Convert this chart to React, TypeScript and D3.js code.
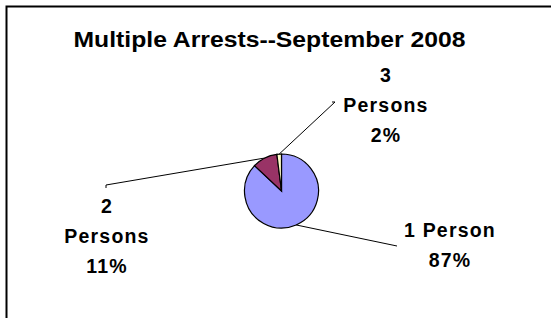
import React from "react";
import * as d3 from "d3";

const categories = ["1 Person", "2 Persons", "3 Persons"];
const values = [87, 11, 2];
const colors = ["#9999FF", "#993366", "#FFFFCC"];
const title = "Multiple Arrests--September 2008";

// label layout (text lines, anchor positions)
const labelLines = [["1 Person", "87%"], ["2", "Persons", "11%"], ["3", "Persons", "2%"]];
const labelPos = [
  { x: 450, y: 237 },
  { x: 107, y: 213 },
  { x: 386, y: 82 },
];
const leaderEnd = [
  { x: 397, y: 246 },
  { x: 106, y: 185 },
  { x: 335, y: 102 },
];

export default function App() {
  const W = 551, H = 318;
  const cx = 281.5, cy = 191, r = 37;
  const pie = d3.pie<number>().sort(null).value((d) => d)(values);
  const arc = d3.arc<d3.PieArcDatum<number>>().innerRadius(0).outerRadius(r);
  const font = "'Liberation Sans', Arial, sans-serif";
  return (
    <svg width={W} height={H} style={{ position: "absolute", left: 0, top: 0, background: "#fff" }}>
      <rect x={6.5} y={6.5} width={600} height={400} fill="#fff" stroke="#000" strokeWidth={2} />
      <text x={269.5} y={47} textAnchor="middle" fontFamily={font} fontWeight="bold" fontSize={22.5} textLength={392} lengthAdjust="spacingAndGlyphs">
        {title}
      </text>
      <g transform={`translate(${cx},${cy})`}>
        {pie.map((p, i) => (
          <path key={categories[i]} d={arc(p) || ""} fill={colors[i]} stroke="#000" strokeWidth={1.2} />
        ))}
      </g>
      {pie.map((p, i) => {
        const a = (p.startAngle + p.endAngle) / 2;
        const sx = cx + r * Math.sin(a);
        const sy = cy - r * Math.cos(a);
        const e = leaderEnd[i];
        return <line key={"l" + i} x1={sx} y1={sy} x2={e.x} y2={e.y} stroke="#000" strokeWidth={1} />;
      })}
      <line x1={106} y1={185} x2={106} y2={188} stroke="#000" strokeWidth={1} />
      <line x1={335} y1={102} x2={332} y2={102} stroke="#000" strokeWidth={1} />
      {labelLines.map((lines, i) => (
        <text key={"t" + i} textAnchor="middle" fontFamily={font} fontWeight="bold" fontSize={19.5} letterSpacing={1.2}>
          {lines.map((ln, j) => (
            <tspan key={j} x={labelPos[i].x} y={labelPos[i].y + j * 30}>{ln}</tspan>
          ))}
        </text>
      ))}
    </svg>
  );
}
